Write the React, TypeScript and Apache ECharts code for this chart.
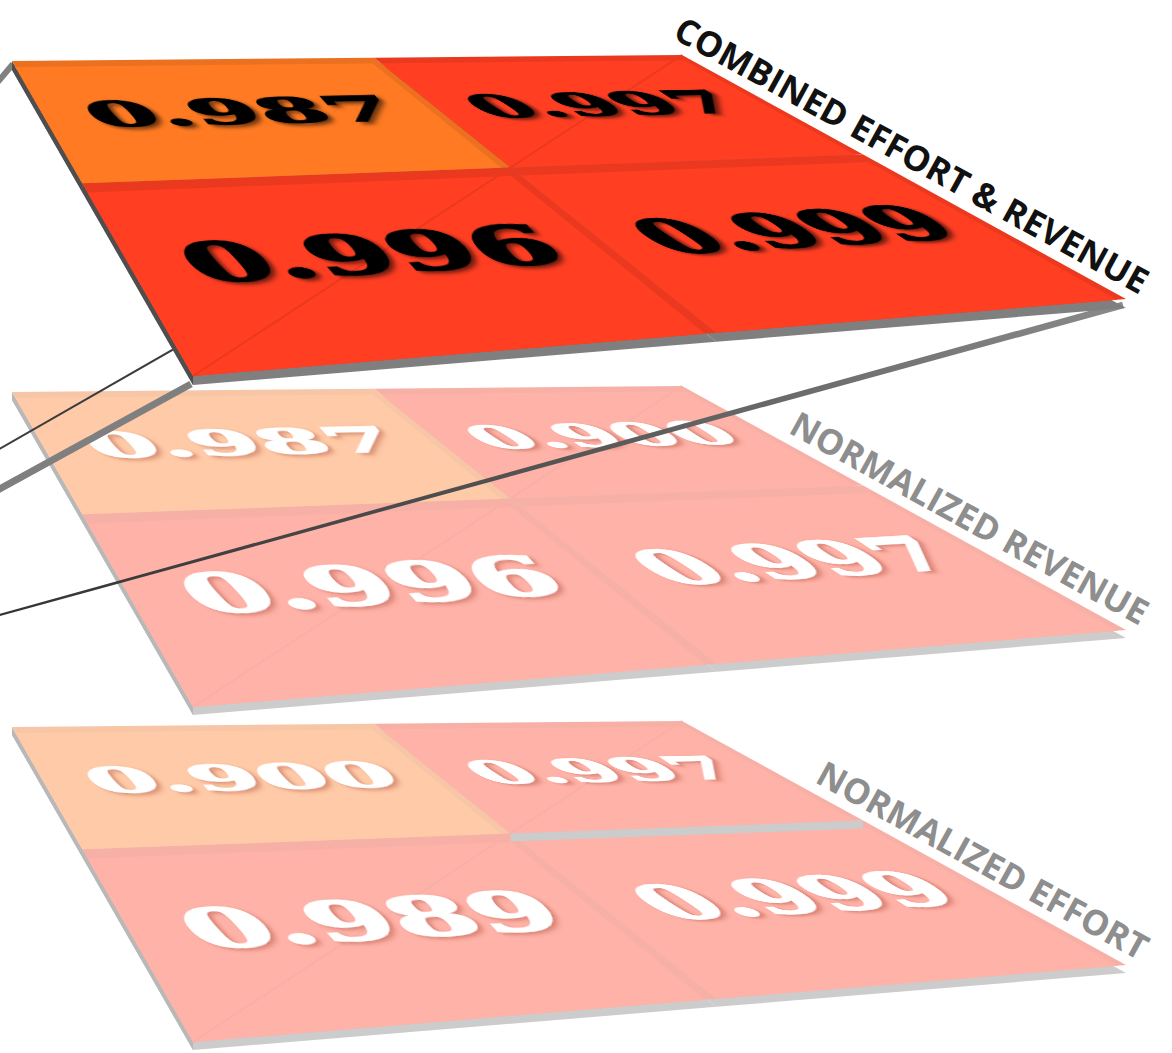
import React, { useEffect, useRef } from "react";
import * as echarts from "echarts";

// ---- data ----
const GRID_ROWS = 2;
const GRID_COLS = 2;
// Values per layer, row by row (back row first, left column first)
const EFFORT_VALUES = [0.9, 0.997, 0.989, 0.999];
const REVENUE_VALUES = [0.987, 0.9, 0.996, 0.997];
const COMBINED_VALUES = [0.987, 0.997, 0.996, 0.999];
const LAYER_NAMES = ["NORMALIZED EFFORT", "NORMALIZED REVENUE", "COMBINED EFFORT & REVENUE"];
// Effort-layer cell whose front lip is exposed
const EFFORT_LIP_CELLS = [1];

// ---- geometry & style ----
const WIDTH = 1172;
const HEIGHT = 1053;
// Screen corners of one slab's top face (top layer); lower slabs are shifted down
const SLAB = { tl: [12, 61], tr: [682, 55], br: [1126, 299], bl: [193, 376] };
// Size of the slab in its own (unprojected) plane
const PLANE_W = 1000;
const PLANE_D = 840;
const NUMBER_FONT_SIZE = 124;
const LABEL_FONT_SIZE = 35;
const ORANGE = "#FF7A22";
const RED = "#FF3E22";
const EDGE_GRAY = "#7F7F7F";
const SIDE_GRAY = "#4E4E4E";

type Pt = [number, number];

function makePlane(q: { tl: number[]; tr: number[]; br: number[]; bl: number[] }, shift: number) {
  const [x0, y0] = [q.tl[0], q.tl[1] + shift];
  const [x1, y1] = [q.tr[0], q.tr[1] + shift];
  const [x2, y2] = [q.br[0], q.br[1] + shift];
  const [x3, y3] = [q.bl[0], q.bl[1] + shift];
  const dx1 = x1 - x2, dx2 = x3 - x2, dx3 = x0 - x1 + x2 - x3;
  const dy1 = y1 - y2, dy2 = y3 - y2, dy3 = y0 - y1 + y2 - y3;
  const den = dx1 * dy2 - dx2 * dy1;
  const g = (dx3 * dy2 - dx2 * dy3) / den;
  const h = (dx1 * dy3 - dx3 * dy1) / den;
  const a = x1 - x0 + g * x1, b = x3 - x0 + h * x3, c = x0;
  const d = y1 - y0 + g * y1, e = y3 - y0 + h * y3, f = y0;
  const map = (u: number, v: number): Pt => {
    const w = g * u + h * v + 1;
    return [(a * u + b * v + c) / w, (d * u + e * v + f) / w];
  };
  const jacobian = (u: number, v: number) => {
    const w = g * u + h * v + 1;
    const [x, y] = map(u, v);
    return { x, y, m: [(a - g * x) / w, (b - h * x) / w, (d - g * y) / w, (e - h * y) / w] };
  };
  return { map, jacobian };
}

// Split a 2x2 linear map into rotation * scale * rotation
function decompose(A: number, B: number, C: number, D: number) {
  const E = (A + D) / 2, F = (A - D) / 2, G = (C + B) / 2, Hh = (C - B) / 2;
  const Q = Math.hypot(E, Hh), R = Math.hypot(F, G);
  const a1 = Math.atan2(G, F), a2 = Math.atan2(Hh, E);
  return { sx: Q + R, sy: Q - R, theta: (a2 - a1) / 2, phi: (a2 + a1) / 2 };
}

function tint(color: string, alpha: number, k = 1) {
  const c = echarts.color.parse(color) as number[];
  const ch = (v: number) => Math.round(Math.max(0, Math.min(255, v * k * alpha + 255 * (1 - alpha))));
  return `rgb(${ch(c[0])},${ch(c[1])},${ch(c[2])})`;
}

function band(p0: Pt, p1: Pt, w0: number, w1: number): Pt[] {
  const dx = p1[0] - p0[0], dy = p1[1] - p0[1];
  const len = Math.hypot(dx, dy);
  const nx = -dy / len, ny = dx / len;
  return [
    [p0[0] + (nx * w0) / 2, p0[1] + (ny * w0) / 2],
    [p1[0] + (nx * w1) / 2, p1[1] + (ny * w1) / 2],
    [p1[0] - (nx * w1) / 2, p1[1] - (ny * w1) / 2],
    [p0[0] - (nx * w0) / 2, p0[1] - (ny * w0) / 2],
  ];
}

type Layer = {
  values: number[];
  name: string;
  shift: number;
  alpha: number;
  ink: string;
  shadow: string;
  z: number;
  lips: number[];
  thick: number;
};

const LAYERS: Layer[] = [
  { values: EFFORT_VALUES, name: LAYER_NAMES[0], shift: 666, alpha: 0.4, ink: "#FFFFFF", shadow: "rgba(170,70,50,0.45)", z: 1, lips: EFFORT_LIP_CELLS, thick: 8 },
  { values: REVENUE_VALUES, name: LAYER_NAMES[1], shift: 331, alpha: 0.4, ink: "#FFFFFF", shadow: "rgba(170,70,50,0.45)", z: 2, lips: [], thick: 8 },
  { values: COMBINED_VALUES, name: LAYER_NAMES[2], shift: 0, alpha: 1, ink: "#000000", shadow: "rgba(0,0,0,0.6)", z: 10, lips: [], thick: 9 },
];

function renderCell(L: Layer, api: any) {
  const plane = makePlane(SLAB, L.shift);
  const row = api.value(0) as number;
  const col = api.value(1) as number;
  const val = api.value(2) as number;
  const base = api.visual("color") as string;
  const u0 = col / GRID_COLS, u1 = (col + 1) / GRID_COLS;
  const v0 = row / GRID_ROWS, v1 = (row + 1) / GRID_ROWS;
  const quad = (ua: number, ub: number, va: number, vb: number): Pt[] => [
    plane.map(ua, va), plane.map(ub, va), plane.map(ub, vb), plane.map(ua, vb),
  ];
  const drop = (pts: Pt[], t: number): Pt[] => pts.map((p) => [p[0], p[1] + t] as Pt);
  const cell = quad(u0, u1, v0, v1);
  const t = L.thick;
  const face = tint(base, L.alpha);
  const rim = tint(base, L.alpha, 0.92);
  const children: any[] = [];

  // slab underside, visible as the front edge
  children.push({ type: "polygon", z2: 0, shape: { points: drop(cell, t) }, style: { fill: tint(EDGE_GRAY, L.alpha) } });
  if (col === 0) {
    children.push({
      type: "polygon", z2: 1,
      shape: { points: [cell[0], cell[3], [cell[3][0], cell[3][1] + t], [cell[0][0], cell[0][1] + t]] },
      style: { fill: tint(SIDE_GRAY, L.alpha) },
    });
  }
  // bevelled tile: darker rim on top and right, flat face inside
  children.push({ type: "polygon", z2: 2, shape: { points: cell }, style: { fill: rim } });
  children.push({ type: "polygon", z2: 3, shape: { points: quad(u0, u1 - 0.012, v0 + 0.03, v1) }, style: { fill: face } });
  if (row + col === 1) {
    const a = plane.map(u1, v0), b = plane.map(u0, v1);
    children.push({ type: "line", z2: 4, shape: { x1: a[0], y1: a[1], x2: b[0], y2: b[1] }, style: { stroke: rim, lineWidth: 2 } });
  }
  if (L.lips.includes(row * GRID_COLS + col)) {
    const e0 = plane.map(u0, v1), e1 = plane.map(u1, v1);
    children.push({
      type: "polygon", z2: 5,
      shape: { points: [e0, e1, [e1[0], e1[1] + t], [e0[0], e0[1] + t]] },
      style: { fill: tint(EDGE_GRAY, L.alpha) },
    });
  }

  // value printed flat on the tile
  const J = plane.jacobian((u0 + u1) / 2 - 0.01, (v0 + v1) / 2);
  const f = decompose(J.m[0] / PLANE_W, J.m[1] / PLANE_D, J.m[2] / PLANE_W, J.m[3] / PLANE_D);
  children.push({
    type: "group",
    x: J.x, y: J.y, rotation: -f.phi, scaleX: f.sx, scaleY: f.sy,
    children: [
      {
        type: "text", z2: 8, rotation: -f.theta,
        style: {
          text: val.toFixed(3), x: 0, y: 0,
          fill: L.ink, stroke: L.ink, lineWidth: 4,
          fontFamily: "DejaVu Serif", fontWeight: "bold", fontSize: NUMBER_FONT_SIZE,
          align: "center", verticalAlign: "middle",
          textShadowColor: L.shadow, textShadowBlur: 5, textShadowOffsetX: 3, textShadowOffsetY: 3,
        },
      },
    ],
  });
  return { type: "group", children };
}

function buildOption() {
  const series = LAYERS.map((L) => ({
    type: "custom",
    coordinateSystem: "none",
    silent: true,
    z: L.z,
    data: L.values.map((v, i) => [Math.floor(i / GRID_COLS), i % GRID_COLS, v, COMBINED_VALUES[i]]),
    renderItem: (_params: any, api: any) => renderCell(L, api),
  }));

  const titles = LAYERS.map((L) => {
    const tr = [SLAB.tr[0], SLAB.tr[1] + L.shift];
    const br = [SLAB.br[0], SLAB.br[1] + L.shift];
    const ang = Math.atan2(br[1] - tr[1], br[0] - tr[0]);
    const c = Math.cos(ang), s = Math.sin(ang);
    return {
      type: "text", z: L.z, silent: true,
      x: br[0] + c * 10 + s * 6, y: br[1] + s * 10 - c * 6,
      rotation: -ang,
      style: {
        text: L.name,
        fill: L.alpha === 1 ? "#111111" : "#8E8E8E",
        fontFamily: "Open Sans", fontWeight: "bold", fontSize: LABEL_FONT_SIZE,
        align: "right", verticalAlign: "bottom",
      },
    };
  });

  // projection rods from the top slab's corners
  const rods = [
    { points: band([13, 64], [-4, 84], 6, 6), fill: "#808080" },
    { points: band([191, 384], [-4, 491], 7, 7), fill: "#7F7F7F" },
    { points: band([682, 58], [-4, 451], 2.5, 2), fill: "#3C3C3C" },
    {
      points: band([1123, 305], [-4, 616], 7, 2),
      fill: new echarts.graphic.LinearGradient(1, 0, 0, 0, [
        { offset: 0, color: "#8A8A8A" },
        { offset: 0.5, color: "#555555" },
        { offset: 1, color: "#333333" },
      ]),
    },
  ].map((r) => ({ type: "polygon", z: 5, silent: true, shape: { points: r.points }, style: { fill: r.fill } }));

  return {
    animation: false,
    backgroundColor: "#FFFFFF",
    visualMap: {
      type: "piecewise",
      show: false,
      dimension: 3,
      seriesIndex: [0, 1, 2],
      pieces: [
        { lt: 0.99, color: ORANGE },
        { gte: 0.99, color: RED },
      ],
    },
    graphic: { elements: [...rods, ...titles] },
    series,
  };
}

export default function App() {
  const ref = useRef<HTMLDivElement>(null);
  useEffect(() => {
    if (!ref.current) return;
    const chart = echarts.init(ref.current, null, { renderer: "svg" });
    chart.setOption(buildOption() as any);
    return () => chart.dispose();
  }, []);
  return (
    <div
      ref={ref}
      style={{ position: "absolute", left: 0, top: 0, width: WIDTH, height: HEIGHT, background: "#fff" }}
    />
  );
}
